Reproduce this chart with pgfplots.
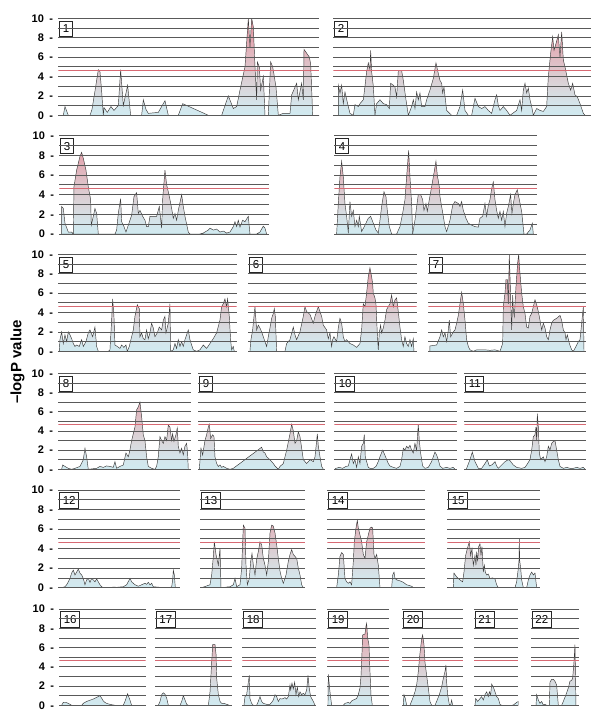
\documentclass[border=0pt]{standalone}
\usepackage{pgfplots}
\pgfplotsset{compat=1.18}
\usepackage{fontspec}
\setmainfont{Liberation Sans}
\definecolor{c0}{RGB}{208,234,240}
\definecolor{c1}{RGB}{212,230,236}
\definecolor{c3}{RGB}{218,214,218}
\definecolor{c5}{RGB}{222,196,202}
\definecolor{c8}{RGB}{228,166,176}
\definecolor{c10}{RGB}{232,150,162}
\definecolor{thr}{RGB}{215,105,115}
\pgfdeclareverticalshading{lod}{100bp}{color(0bp)=(c0); color(25bp)=(c0); color(30bp)=(c1); color(40bp)=(c3); color(50bp)=(c5); color(65bp)=(c8); color(75bp)=(c10); color(100bp)=(c10)}
\pgfplotsset{
 pan/.style={scale only axis, anchor=south west, ymin=0, ymax=10, axis on top,
  ytick={0,2,...,10}, minor ytick={1,3,...,9}, ymajorgrids, yminorgrids,
  major grid style={black!65, line width=0.75pt},
  minor grid style={black!65, line width=0.75pt},
  xtick=\empty, axis line style={draw=none}, major tick length=0pt, minor tick length=0pt,
  yticklabels={}, clip=true},
 lab/.style={yticklabels={{0\hspace{5.5pt}-},{2\hspace{5.5pt}-},{4\hspace{5.5pt}-},{6\hspace{5.5pt}-},{8\hspace{5.5pt}-},{10\hspace{5.5pt}-}},
  yticklabel style={font=\fontsize{11}{13}\selectfont\bfseries, anchor=east, inner sep=0pt, xshift=-5pt}},
 curve/.style={draw=black!78, line width=0.45pt,
  path picture={\shade[shading=lod, path picture={}, draw=none] (rel axis cs:0,0) rectangle (rel axis cs:1,1);}},
}
\newcommand\panel[9]{%
\begin{axis}[pan, at={(#1pt,#2pt)}, width=#3pt, height=#4pt, xmin=#5, xmax=#6, #8]
\addplot[curve] coordinates {#9} \closedcycle;
\addplot[thr, line width=0.6pt] coordinates {(#5,4.67) (#6,4.67)};
\node[draw=black!85, line width=0.9pt, fill=white, anchor=north west, xshift=1pt, yshift=-2.4pt,
  font=\fontsize{11.5}{13}\selectfont, minimum height=15.3pt, inner xsep=3pt, inner ysep=0pt] at (rel axis cs:0,1) {#7};
\end{axis}}
\begin{document}
\begin{tikzpicture}
\useasboundingbox (0,0) rectangle (600pt,728pt);
\node[rotate=90, font=\fontsize{15}{17}\selectfont\bfseries] at (17.5pt,366pt) {–logP value};
% Row 1
\panel{58.3}{612.7}{260.7}{97}{175}{957}{1}{lab}{(175,0)(190,0)(195,0.9)(205,0)(270,0)(276,0.6)(285,2.5)(295,4.7)(300,4.5)(305,2.5)(310,0)(312,0.8)(322,0.3)(333,0.9)(342,0.5)(355,1.0)(362,4.7)(370,1.0)(383,3.1)(392,0)(425,0)(430,1.6)(438,0.6)(445,0.2)(475,0.3)(495,1.5)(505,0)(535,0)(548,1.2)(625,0)(665,0)(670,0.5)(685,2.0)(700,0.7)(710,0.9)(720,2.6)(735,5.0)(745,10)(750,7.0)(755,10)(760,9.1)(765,5.0)(770,1.6)(772,5.5)(778,5.0)(782,2.6)(790,4.0)(795,0)(805,0)(812,5.5)(818,5.0)(822,4.2)(828,2.9)(835,0)(850,0.2)(870,0.2)(875,2.1)(890,3.3)(895,1.6)(905,3.3)(910,1.6)(912,6.8)(920,6.4)(928,6.0)(932,5.3)(938,0)(957,0)}
\panel{333.3}{612.7}{257.7}{97}{100}{873}{2}{}{(115,0)(115,3.1)(120,2.3)(125,3.1)(130,1.2)(135,2.4)(145,0.9)(150,0.2)(160,0)(165,1.1)(175,0.9)(180,1.2)(190,1.6)(195,3.0)(200,4.5)(205,5.4)(210,4.7)(212,6.7)(215,4.5)(220,3.0)(225,0)(230,1.2)(240,1.6)(250,1.2)(260,1.1)(268,0.7)(272,3.3)(280,3.1)(285,2.9)(290,1.9)(295,4.6)(305,4.6)(310,3.6)(318,1.6)(325,0)(335,0.9)(340,1.6)(345,0.7)(350,2.4)(355,1.6)(360,2.3)(365,0.9)(375,0.9)(380,1.6)(390,2.6)(400,3.8)(408,5.4)(415,4.3)(420,3.6)(425,3.3)(428,2.3)(432,2.9)(440,0.5)(455,0)(470,0)(480,0.9)(488,2.6)(495,0.5)(505,0)(515,0)(525,1.75)(535,0.9)(545,0.7)(555,0.9)(565,0.5)(575,0.2)(585,1.6)(590,2.1)(595,1.0)(600,0.5)(610,0.9)(620,0.5)(630,0)(650,0.5)(660,1.6)(665,0.5)(670,2.6)(675,3.3)(680,2.3)(685,2.8)(690,1.6)(695,0.9)(700,0)(710,0.7)(720,0.5)(730,0.4)(740,0.9)(745,4.0)(752,6.4)(758,8.1)(762,6.7)(768,7.4)(775,8.3)(780,6.0)(785,8.6)(790,5.7)(795,5.0)(805,3.3)(812,2.6)(818,3.3)(825,2.1)(832,1.9)(840,1.2)(850,0.2)(855,0)}
% Row 2
\panel{59.3}{494.0}{210}{98.3}{178}{808}{3}{lab}{(185,0)(185,2.8)(190,2.6)(195,1.1)(205,0.2)(215,0.2)(220,0)(222,4.8)(230,6.5)(240,7.9)(245,8.3)(250,7.7)(258,6.5)(265,4.8)(272,3.5)(274,0.9)(280,1.8)(285,2.6)(290,2.1)(295,0)(345,0)(350,0.4)(355,2.1)(362,3.6)(365,1.25)(372,0.75)(378,0.2)(385,0.9)(395,1.9)(402,3.8)(410,4.2)(415,2.1)(420,2.4)(428,1.8)(435,1.4)(440,0.75)(445,0.75)(450,1.8)(470,1.8)(478,2.8)(485,0.6)(488,3.5)(495,6.5)(500,5.0)(505,4.3)(510,3.5)(515,2.6)(520,1.6)(525,2.1)(530,1.4)(535,2.4)(545,4.0)(550,2.8)(555,1.8)(565,0.2)(570,0)(600,0)(610,0.1)(625,0.4)(630,0.6)(640,0.4)(650,0.5)(660,0.2)(670,0.3)(680,0.1)(690,0.2)(700,0.75)(705,1.25)(710,0.75)(715,1.4)(720,0.7)(728,1.4)(735,1.25)(745,1.8)(750,0)(770,0)(780,0.2)(790,0.8)(795,0.6)(800,0)}
\panel{334.3}{494.0}{203}{98.3}{103}{712}{4}{}{(110,0)(115,3.1)(120,5.8)(125,7.4)(130,5.8)(135,3.1)(140,1.8)(145,0.1)(150,3.3)(155,1.8)(160,2.4)(165,0.75)(170,1.4)(175,0.75)(178,1.8)(185,0.24)(195,0.9)(205,1.6)(212,1.8)(220,1.1)(228,0.4)(235,0.1)(240,1.4)(245,2.8)(252,4.3)(258,3.8)(262,2.4)(268,0.75)(275,0)(290,0)(300,0.75)(308,2.1)(315,3.5)(320,5.8)(326,8.5)(330,5.8)(335,3.1)(338,0)(345,1.4)(350,2.8)(355,4.0)(362,4.0)(368,3.5)(372,2.4)(378,3.1)(382,2.3)(388,3.5)(395,4.8)(400,5.8)(408,7.4)(412,6.0)(418,4.8)(420,3.8)(425,2.8)(430,1.8)(435,0.75)(440,0.24)(450,1.4)(458,2.9)(465,3.3)(475,3.1)(480,2.8)(485,3.3)(490,2.4)(498,1.6)(505,1.1)(515,0.9)(525,0.75)(535,0.7)(540,1.6)(548,1.8)(555,3.1)(560,1.8)(565,2.9)(570,3.5)(575,4.6)(580,5.3)(585,3.5)(590,2.4)(595,1.6)(600,2.3)(605,1.4)(610,2.3)(615,0.75)(620,2.1)(625,2.8)(632,4.0)(636,2.1)(640,3.1)(645,4.0)(652,4.5)(658,3.5)(665,2.3)(672,0)(680,0)(690,0.4)(697,1.1)(700,0)}
% Row 3
\panel{58.3}{376.7}{178.3}{97}{175}{710}{5}{lab}{(178,0)(180,1.2)(185,2.0)(190,0.8)(195,1.7)(200,1.0)(205,2.0)(210,1.7)(215,1.3)(220,0.8)(225,0.5)(230,0.65)(238,0.5)(245,1.2)(250,0.5)(258,1.0)(265,1.9)(270,2.2)(278,1.5)(285,2.5)(290,0.5)(295,0)(325,0)(330,0.15)(335,3.2)(338,5.4)(342,3.6)(345,0.65)(352,0.5)(360,0.3)(365,0.65)(372,0.4)(378,0.65)(382,0)(388,0.5)(395,1.5)(400,2.2)(405,3.6)(412,4.8)(418,4.4)(420,1.5)(425,1.9)(430,1.3)(435,1.2)(440,2.2)(445,1.3)(450,1.9)(455,2.9)(460,2.4)(465,1.5)(472,1.9)(478,2.5)(485,2.2)(490,3.2)(495,3.6)(498,1.9)(505,2.9)(510,4.9)(512,0)(520,0.15)(525,0.8)(530,0.3)(535,1.2)(540,0.5)(545,1.0)(550,0.5)(555,1.2)(560,1.7)(565,2.2)(570,1.2)(575,0.65)(580,0.15)(590,0)(600,0.15)(610,0.65)(620,0.3)(630,0.8)(640,1.3)(650,1.9)(660,3.2)(665,4.6)(670,4.9)(675,5.4)(680,4.6)(683,5.4)(688,3.6)(692,1.2)(695,0.15)(700,0.5)(703,0)}
\panel{248.3}{376.7}{168.3}{97}{745}{1250}{6}{}{(750,0)(752,1.0)(758,2.2)(765,4.6)(770,2.2)(775,2.7)(780,2.4)(785,2.0)(790,1.5)(795,1.0)(800,0.5)(805,1.5)(810,2.4)(815,3.4)(820,3.9)(823,4.4)(826,3.6)(830,0)(855,0)(860,0.8)(870,1.2)(880,2.5)(885,1.7)(890,1.2)(900,2.0)(910,3.6)(915,4.6)(920,4.1)(930,3.8)(940,2.9)(945,3.6)(955,4.6)(960,4.1)(965,3.6)(970,2.7)(980,2.2)(985,1.3)(990,1.9)(995,0.5)(998,1.2)(1002,1.5)(1010,1.0)(1015,2.4)(1020,3.4)(1025,2.9)(1030,1.5)(1035,1.0)(1040,1.2)(1050,0.8)(1060,0.65)(1070,0.4)(1080,0.8)(1085,2.2)(1090,4.9)(1095,4.6)(1100,6.0)(1105,7.7)(1110,8.6)(1115,7.7)(1118,7.0)(1120,6.0)(1125,5.5)(1128,4.9)(1132,1.9)(1135,0.15)(1138,1.9)(1142,2.7)(1145,1.9)(1150,2.4)(1155,3.2)(1160,4.3)(1165,4.6)(1170,4.9)(1175,5.8)(1180,4.6)(1185,5.3)(1190,5.5)(1195,4.1)(1200,2.5)(1205,1.2)(1210,0.5)(1215,1.5)(1220,0.8)(1225,0.5)(1230,1.2)(1235,0.5)(1240,1.3)(1242,0)}
\panel{428.3}{376.7}{157.7}{97}{415}{888}{7}{}{(420,0)(420,0.55)(440,0.65)(450,1.5)(455,2.2)(460,1.5)(465,1.9)(470,1.0)(475,2.2)(478,3.2)(482,1.5)(490,2.0)(495,2.2)(500,2.9)(505,3.7)(510,4.9)(515,6.1)(520,4.9)(525,3.2)(530,1.2)(535,0.5)(540,0.15)(550,0)(560,0.15)(585,0.15)(600,0.1)(615,0.15)(630,0)(638,0.8)(640,4.6)(645,6.0)(648,7.4)(652,7.4)(655,4.9)(658,10)(662,5.5)(665,2.2)(668,5.8)(670,4.3)(673,3.6)(678,6.7)(683,9.1)(686,10)(690,8.0)(695,6.0)(700,4.6)(705,3.9)(710,2.5)(715,2.4)(720,3.6)(725,3.9)(730,4.6)(735,5.3)(740,4.8)(745,4.1)(750,3.2)(755,2.2)(760,2.9)(765,2.4)(770,1.5)(775,1.2)(780,2.2)(785,2.9)(790,3.2)(800,3.4)(810,3.7)(815,3.2)(820,2.2)(825,1.9)(828,1.2)(832,1.7)(838,0.8)(845,0.15)(850,0)(858,0.5)(865,1.0)(870,1.2)(875,2.9)(880,4.6)(882,0)}
% Row 4
\panel{58.3}{258.7}{132.3}{96}{175}{572}{8}{lab}{(185,0)(188,0.45)(195,0.3)(205,0.1)(215,0)(225,0.1)(240,0.3)(250,1.0)(255,2.2)(260,1.3)(265,0)(290,0.1)(300,0.3)(310,0.2)(320,0.35)(330,0.3)(340,0.2)(345,0.8)(350,0.1)(360,0.3)(370,0.45)(378,1.7)(385,1.3)(390,2.0)(395,3.0)(405,4.4)(410,6.2)(415,6.5)(420,7.0)(425,5.5)(430,3.6)(435,3.0)(440,1.3)(445,0.3)(455,0.1)(465,0)(470,0.3)(475,1.3)(480,3.4)(485,3.0)(490,2.7)(495,3.4)(500,3.0)(505,4.6)(510,4.4)(515,3.0)(518,3.7)(522,2.9)(528,3.6)(532,4.3)(535,2.4)(540,1.7)(545,2.2)(550,1.5)(555,2.4)(560,2.7)(563,1.7)(565,0)}
\panel{198.3}{258.7}{126.7}{96}{595}{975}{9}{}{(598,0)(603,2.2)(608,1.5)(615,3.0)(620,3.6)(625,4.4)(628,4.7)(632,3.2)(638,3.6)(642,3.4)(645,1.3)(650,0.6)(655,0.3)(660,0.45)(665,0.2)(670,0.3)(680,0.1)(690,0)(700,0.1)(785,2.3)(790,1.8)(795,1.7)(800,1.3)(810,1.0)(820,0.6)(825,0.35)(835,0)(840,0.3)(850,0.6)(860,2.0)(870,3.7)(875,4.7)(880,4.0)(885,2.7)(890,3.0)(895,3.9)(900,3.4)(910,1.0)(920,0.6)(930,1.0)(940,0.8)(945,1.3)(950,3.0)(952,3.7)(955,2.4)(960,1.3)(965,0.3)(970,0)}
\panel{334.3}{258.7}{122.3}{96}{103}{470}{10}{}{(105,0)(108,0.1)(118,0.2)(128,0.1)(138,0.3)(145,0.35)(150,1.0)(155,1.6)(160,0.6)(165,1.0)(170,0.2)(175,1.3)(180,0.6)(185,2.4)(190,2.7)(193,3.6)(196,1.3)(200,0.8)(205,0.2)(210,0.1)(220,0.1)(228,0.3)(235,0.8)(240,1.3)(248,2.0)(252,1.7)(258,1.2)(265,0.6)(270,0.35)(280,0.2)(290,0.1)(300,0.3)(305,1.0)(310,2.2)(315,2.0)(320,2.4)(325,2.2)(330,2.5)(335,2.0)(340,1.7)(345,2.7)(350,2.0)(355,4.7)(358,3.0)(362,1.7)(368,0.35)(375,0.1)(385,0.2)(395,0.8)(400,1.3)(405,1.8)(410,1.5)(415,1.0)(420,0.35)(428,0.1)(440,0.2)(450,0.1)(460,0.2)(465,0)}
\panel{464.3}{258.7}{121.7}{96}{493}{858}{11}{}{(500,0)(500,0.1)(510,1.0)(517,1.8)(525,0.8)(535,0.1)(545,0.1)(555,0.6)(562,1.0)(568,0.35)(575,0.45)(580,0.6)(585,0.8)(590,0.35)(595,0.1)(605,0.45)(615,0.8)(625,1.0)(630,0.9)(640,0.45)(650,0.2)(665,0.1)(675,0.2)(680,0.45)(690,1.0)(695,2.0)(700,3.4)(705,3.6)(708,4.4)(710,3.0)(712,5.8)(715,4.4)(718,1.7)(722,1.0)(730,1.3)(735,0.8)(740,1.3)(745,2.4)(750,2.0)(755,2.7)(760,2.9)(765,3.0)(770,2.0)(775,1.0)(780,0.3)(790,0.1)(800,0.2)(810,0.1)(820,0.1)(830,0.2)(840,0.1)(850,0.2)(855,0)}
% Row 5
\panel{58.3}{140.3}{121.7}{97.7}{175}{540}{12}{lab}{(185,0)(195,0.1)(200,0.3)(205,0.6)(210,0.95)(215,1.5)(220,1.8)(225,1.3)(230,1.6)(235,1.9)(240,1.5)(245,1.3)(250,0.95)(255,0.3)(260,0.8)(265,0.95)(270,0.55)(275,0.95)(280,0.8)(285,0.6)(290,0.9)(295,0.6)(300,0.3)(305,0.1)(310,0)(330,0)(340,0.07)(350,0.04)(360,0.07)(370,0.1)(380,0.3)(390,0.95)(395,0.6)(405,0.3)(415,0.15)(425,0.3)(435,0.45)(440,0.35)(445,0.55)(450,0.3)(455,0.45)(460,0.1)(470,0.07)(480,0.04)(495,0.04)(505,0)(515,0.07)(518,0.8)(520,1.8)(523,1.3)(526,0)}
\panel{200}{140.3}{105}{97.7}{600}{915}{13}{}{(605,0)(630,0.3)(635,1.3)(640,3.2)(643,4.7)(648,3.4)(655,2.3)(660,4.0)(663,0)(670,0)(680,0.07)(690,0.1)(700,0.3)(705,0.95)(710,0.1)(720,0.3)(725,2.0)(730,6.4)(735,6.1)(738,2.3)(742,0.3)(748,0.95)(752,2.7)(756,3.5)(760,2.3)(765,1.3)(770,2.9)(775,3.7)(780,4.7)(785,4.4)(790,3.0)(795,2.3)(800,1.3)(805,2.7)(810,5.6)(815,6.4)(820,6.3)(825,5.6)(830,4.4)(835,3.0)(840,1.7)(845,0.95)(850,0.45)(858,1.3)(865,2.7)(870,3.4)(875,3.9)(880,3.4)(885,3.2)(890,3.0)(895,2.0)(900,1.3)(905,0.3)(910,0)}
\panel{327.3}{140.3}{97.7}{97.7}{82}{375}{14}{}{(110,0)(115,1.3)(120,3.2)(125,3.6)(130,3.4)(135,0.95)(140,0.6)(145,0.45)(150,0.6)(155,0.3)(160,2.7)(163,4.7)(168,6.1)(172,6.9)(175,6.1)(180,5.4)(185,4.7)(190,3.4)(195,3.0)(200,4.7)(205,5.4)(210,6.1)(215,6.2)(218,6.1)(222,3.4)(225,3.0)(230,3.4)(235,2.3)(240,0)(275,0)(278,1.3)(282,1.6)(285,0.95)(290,0.8)(300,0.7)(310,0.55)(320,0.3)(325,0.25)(335,0.15)(340,0)}
\panel{447.3}{140.3}{92.7}{97.7}{442}{720}{15}{}{(460,0)(462,1.5)(470,1.1)(480,0.8)(488,0.6)(492,1.6)(497,3.3)(502,4.0)(508,4.7)(512,3.3)(516,4.0)(520,2.3)(522,2.7)(525,3.3)(528,2.3)(530,3.7)(533,2.7)(536,4.2)(540,4.5)(543,3.3)(546,4.2)(550,1.6)(553,2.3)(556,1.6)(560,1.3)(565,1.4)(570,0.95)(578,1.0)(585,0.9)(590,0.3)(595,0)(645,0)(650,0.6)(655,2.0)(657,2.8)(658,5.0)(659,2.8)(662,2.0)(665,0.8)(670,0)(680,0)(685,0.8)(690,1.3)(695,1.6)(700,1.3)(705,1.5)(710,0)}
% Row 6
\panel{59.3}{22.7}{86.3}{96.3}{178}{437}{16}{lab}{(185,0)(190,0.3)(200,0.28)(210,0.1)(215,0)(245,0)(250,0.2)(260,0.4)(280,0.65)(300,1.0)(305,0.75)(310,0.45)(315,0.3)(320,0.2)(330,0.1)(345,0)(370,0)(375,0.4)(383,1.2)(390,0.55)(395,0)}
\panel{155}{22.7}{76.7}{96.3}{465}{695}{17}{}{(475,0)(480,0.4)(485,1.1)(490,1.3)(495,1.15)(500,0.75)(505,0)(540,0)(545,0.4)(550,1.0)(555,0.55)(560,0.1)(565,0)(625,0)(630,1.4)(635,4.5)(638,6.3)(645,6.3)(648,5.3)(650,2.8)(655,1.1)(660,0.4)(665,0.2)(672,0.2)(680,0.1)(688,0)}
\panel{242.3}{22.7}{73.7}{96.3}{727}{948}{18}{}{(732,0)(735,0.9)(740,1.1)(745,2.4)(748,3.1)(750,0.7)(755,0.2)(760,0)(770,0)(775,0.4)(780,0.9)(785,0.4)(790,0.2)(800,0.1)(810,0.1)(815,0.3)(820,0.55)(825,1.1)(830,0.9)(835,0.4)(840,0.7)(845,0.65)(850,0.7)(855,0.8)(860,0.65)(865,0.9)(870,2.1)(872,1.6)(876,2.3)(880,1.7)(884,2.4)(888,1.1)(892,1.9)(896,0.9)(900,1.4)(905,1.1)(910,1.25)(915,1.1)(920,1.6)(924,3.1)(928,1.7)(932,0.9)(940,0.4)(945,0)}
\panel{327.3}{22.7}{62}{96.3}{82}{268}{19}{}{(84,0)(85,3.2)(90,1.4)(95,0)(130,0)(135,0.2)(145,0.3)(150,0.2)(155,0.45)(160,0.55)(170,0.7)(175,1.1)(180,1.8)(183,3.0)(186,5.4)(188,7.3)(195,7.4)(198,8.2)(200,8.5)(203,7.0)(207,6.3)(210,3.5)(213,1.1)(217,0)}
\panel{402.3}{22.7}{61}{96.3}{307}{490}{20}{}{(310,0)(312,1.1)(316,0.7)(320,0)(330,0)(338,0.7)(345,1.4)(350,2.1)(355,3.5)(360,5.4)(365,6.9)(368,7.3)(372,6.3)(375,4.5)(380,3.1)(385,1.8)(390,0.4)(395,0)(405,0)(410,0.4)(418,1.1)(425,1.9)(430,2.8)(435,3.5)(438,4.2)(440,2.4)(443,1.1)(448,0.1)(452,0)(455,0.55)(458,0)}
\panel{474}{22.7}{44.3}{96.3}{522}{655}{21}{}{(525,0)(527,0.7)(533,0.4)(540,0.7)(545,0.9)(550,0.55)(555,1.1)(560,1.4)(565,0.9)(568,1.4)(572,1.1)(575,2.2)(580,1.9)(585,1.4)(590,0.9)(595,0.7)(600,0.1)(605,0)(635,0)(640,0.03)(650,0.3)(655,0.4)}
\panel{531}{22.7}{48.3}{96.3}{693}{838}{22}{}{(708,0)(710,1.1)(715,0.55)(720,0.2)(725,0.4)(730,0.03)(735,0.1)(740,0)(748,0)(750,2.4)(755,2.7)(760,2.7)(765,2.5)(770,2.1)(775,0)(785,0)(790,0.4)(798,1.1)(805,1.8)(810,2.5)(815,2.6)(818,2.8)(822,4.5)(825,6.3)(828,0)}
\end{tikzpicture}
\end{document}
